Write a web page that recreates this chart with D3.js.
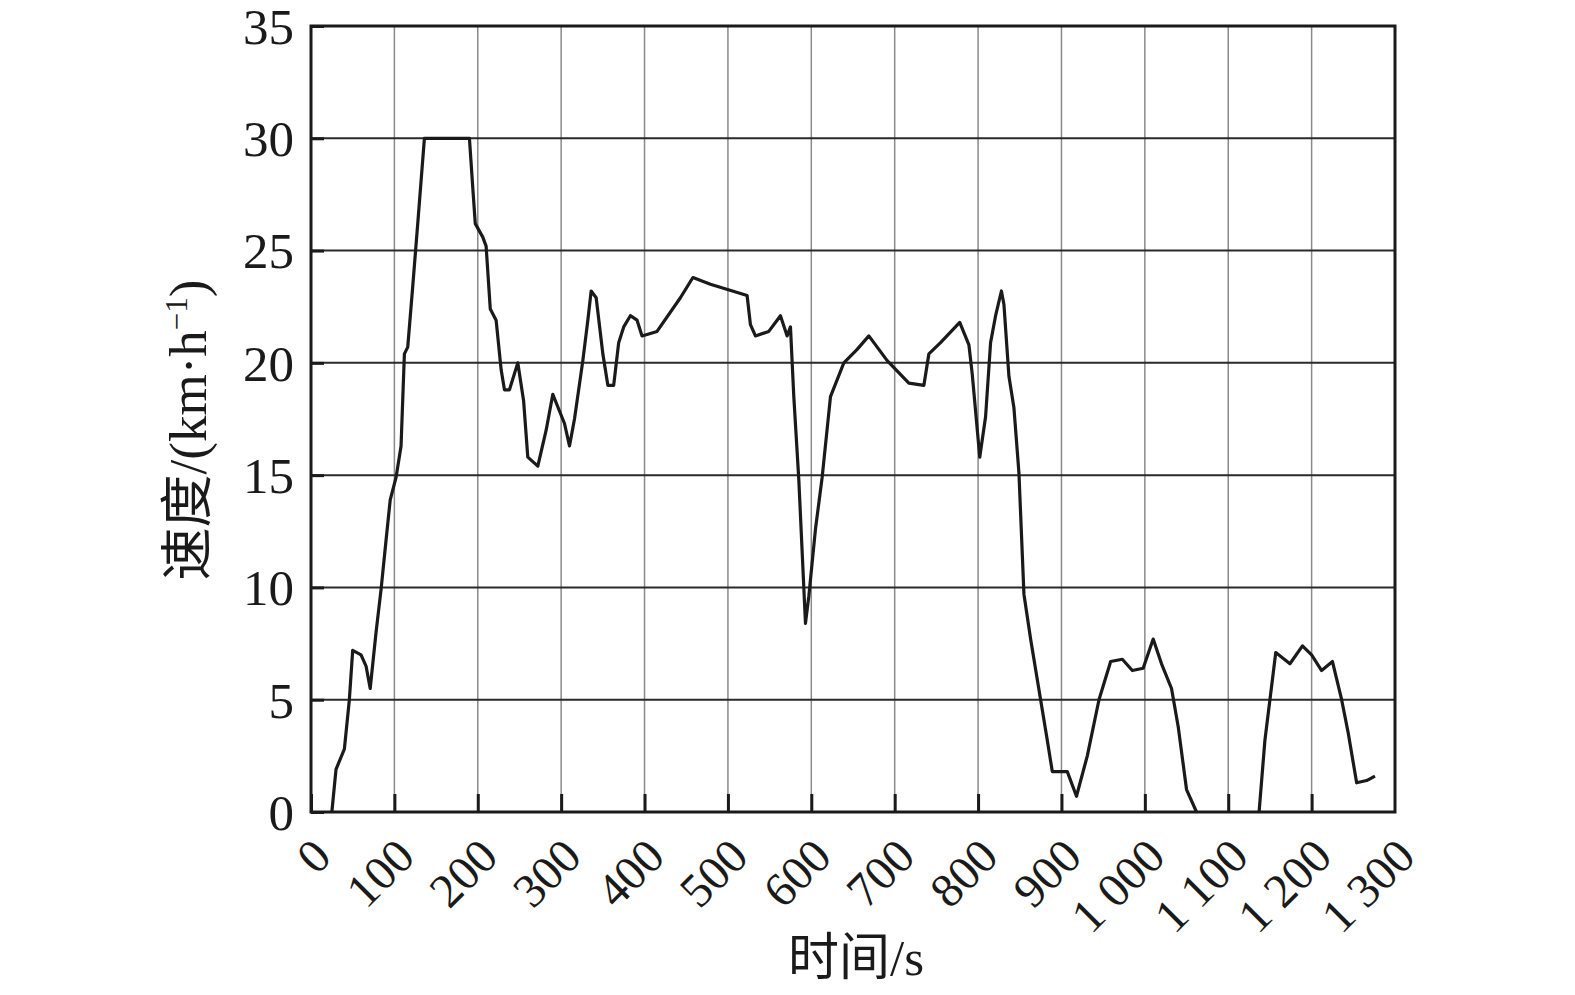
<!DOCTYPE html>
<html>
<head>
<meta charset="utf-8">
<script src="https://cdn.jsdelivr.net/npm/d3@7"></script>
<style>
  html, body { margin: 0; padding: 0; background: #fff; }
  svg { display: block; }
  text { font-family: "Liberation Serif", "Times New Roman", "Noto Sans CJK SC", serif; fill: #1a1a1a; }
</style>
</head>
<body>
<div id="chart"></div>
<script>
// speed trace (s, km/h)
const timeS = [25, 30, 40, 46, 50, 60, 66, 71, 78, 84, 90, 95, 102, 108, 112, 116, 122, 128, 136, 190,
  194, 197, 206, 210, 215, 222, 228, 232, 238, 248, 255, 260, 272, 282, 290, 304, 310, 316, 326, 332,
  336, 342, 350, 356, 363, 369, 375, 383, 391, 397, 415, 443, 458, 479, 523, 527, 533, 549, 563, 571,
  575, 579, 585, 593, 597, 605, 613, 623, 639, 655, 669, 691, 717, 735, 741, 755, 778, 789, 793, 802,
  809, 815, 821, 828, 831, 837, 843, 849, 855, 863, 875, 883, 889, 907, 918, 931, 945, 959, 973, 985,
  998, 1010, 1020, 1032, 1040, 1050, 1062, 1137, 1144, 1150, 1157, 1174, 1189, 1200, 1212, 1225, 1236,
  1244, 1254, 1266, 1276];
const speed = [0, 1.9, 2.8, 5.0, 7.2, 7.0, 6.5, 5.5, 8.0, 9.9, 12.1, 13.9, 14.9, 16.3, 20.4, 20.7, 23.4, 26.2, 30, 30,
  27.8, 26.2, 25.6, 25.2, 22.4, 21.9, 19.7, 18.8, 18.8, 20.0, 18.3, 15.8, 15.4, 17.0, 18.6, 17.3, 16.3, 17.5, 20.1, 21.9,
  23.2, 22.9, 20.4, 19.0, 19.0, 20.9, 21.6, 22.1, 21.9, 21.2, 21.4, 22.9, 23.8, 23.5, 23.0, 21.7, 21.2, 21.4, 22.1, 21.2,
  21.6, 18.5, 14.8, 8.4, 9.6, 12.6, 14.9, 18.5, 20.0, 20.6, 21.2, 20.1, 19.1, 19.0, 20.4, 20.9, 21.8, 20.8, 19.5, 15.8,
  17.6, 20.9, 22.1, 23.2, 22.6, 19.4, 18.0, 15.1, 9.7, 7.7, 5.0, 3.2, 1.8, 1.8, 0.7, 2.5, 5.0, 6.7, 6.8, 6.3,
  6.4, 7.7, 6.6, 5.5, 3.8, 1.0, 0, 0, 3.2, 5.0, 7.1, 6.6, 7.4, 7.0, 6.3, 6.7, 5.0,
  3.5, 1.3, 1.4, 1.6];

const xTicks = [0, 100, 200, 300, 400, 500, 600, 700, 800, 900, 1000, 1100, 1200, 1300];
const yTicks = [0, 5, 10, 15, 20, 25, 30, 35];
const xTitle = "时间/s";

const W = 1575, H = 995;
const margin = {top: 26, right: 180, bottom: 183, left: 311};

const svg = d3.select("#chart").append("svg")
    .attr("width", W)
    .attr("height", H);

const x = d3.scaleLinear().domain([0, 1300]).range([margin.left, W - margin.right]);
const y = d3.scaleLinear().domain([0, 35]).range([H - margin.bottom, margin.top]);

// thousands written with a space, like "1 000"
const fmt = d => d >= 1000 ? Math.floor(d / 1000) + " " + d3.format("03d")(d % 1000) : String(d);

// grid
svg.append("g")
  .selectAll("line")
  .data(xTicks.slice(1, -1))
  .join("line")
    .attr("x1", d => x(d)).attr("x2", d => x(d))
    .attr("y1", y(35)).attr("y2", y(0))
    .attr("stroke", "#8a8a8a")
    .attr("stroke-width", 1.5);

svg.append("g")
  .selectAll("line")
  .data(yTicks.slice(1, -1))
  .join("line")
    .attr("x1", x(0)).attr("x2", x(1300))
    .attr("y1", d => y(d)).attr("y2", d => y(d))
    .attr("stroke", "#2a2a2a")
    .attr("stroke-width", 2);

// the speed trace; stretches standing at 0 sit under the axis, so leave them out
const pts = timeS.map((t, i) => [t, speed[i]]);
const pieces = [[pts[0]]];
for (let i = 1; i < pts.length; i++) {
  if (pts[i][1] === 0 && pts[i - 1][1] === 0) pieces.push([]);
  pieces[pieces.length - 1].push(pts[i]);
}

const line = d3.line().x(d => x(d[0])).y(d => y(d[1]));
svg.append("g")
  .selectAll("path")
  .data(pieces.filter(p => p.length > 1))
  .join("path")
    .attr("fill", "none")
    .attr("stroke", "#1a1a1a")
    .attr("stroke-width", 3.2)
    .attr("stroke-linejoin", "round")
    .attr("d", line);

// axes with inward ticks
const yAxis = d3.axisLeft(y).tickValues(yTicks).tickSizeInner(-13).tickSizeOuter(0);
const gy = svg.append("g")
    .attr("transform", `translate(${margin.left},0)`)
    .call(yAxis);
gy.select(".domain").remove();
gy.selectAll(".tick line").attr("stroke", "#1a1a1a").attr("stroke-width", 3);
gy.selectAll(".tick text")
    .attr("x", -17)
    .attr("font-size", 51)
    .attr("dy", "0.34em")
    .style("font-family", '"Liberation Serif", serif');

const xAxis = d3.axisBottom(x).tickValues(xTicks).tickSizeInner(-18).tickSizeOuter(0).tickFormat(fmt);
const gx = svg.append("g")
    .attr("transform", `translate(0,${H - margin.bottom})`)
    .call(xAxis);
gx.select(".domain").remove();
gx.selectAll(".tick line").attr("stroke", "#1a1a1a").attr("stroke-width", 3);
gx.selectAll(".tick text")
    .attr("x", 0).attr("y", 0).attr("dy", 0)
    .attr("font-size", 48)
    .attr("text-anchor", "end")
    .attr("transform", "translate(22,47) rotate(-45)")
    .style("font-family", '"Liberation Serif", serif');
gx.selectAll(".tick").filter(d => d === 1300).select("line").remove();

// frame
svg.append("rect")
    .attr("x", x(0)).attr("y", y(35))
    .attr("width", x(1300) - x(0)).attr("height", y(0) - y(35))
    .attr("fill", "none")
    .attr("stroke", "#1a1a1a")
    .attr("stroke-width", 3);

// titles
svg.append("text")
    .attr("x", 856).attr("y", 975)
    .attr("text-anchor", "middle")
    .attr("font-size", 51)
    .text(xTitle);

const yt = svg.append("text")
    .attr("transform", "translate(206,430) rotate(-90)")
    .attr("text-anchor", "middle")
    .attr("font-size", 53);
yt.append("tspan").text("速度/(km·h");
yt.append("tspan").attr("dy", -19).attr("font-size", 31).text("−1");
yt.append("tspan").attr("dy", 19).text(")");
</script>
</body>
</html>
